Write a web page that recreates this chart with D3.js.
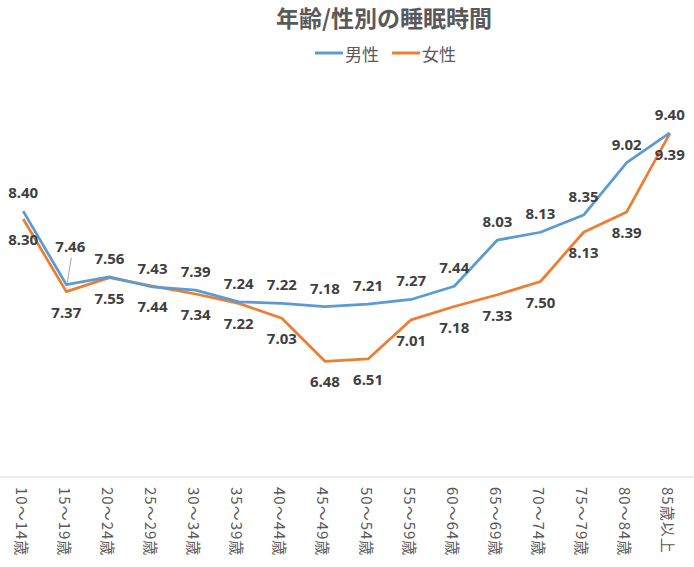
<!DOCTYPE html>
<html><head><meta charset="utf-8">
<script src="https://cdn.jsdelivr.net/npm/d3@7/dist/d3.min.js"></script>
<style>
html,body{margin:0;padding:0;background:#fff;}
svg{display:block;}
</style>
</head><body>
<svg id="c" width="694" height="567"></svg>
<script>
const categories = ["10～14歳","15～19歳","20～24歳","25～29歳","30～34歳","35～39歳","40～44歳","45～49歳","50～54歳","55～59歳","60～64歳","65～69歳","70～74歳","75～79歳","80～84歳","85歳以上"];
const male   = [8.40,7.46,7.56,7.43,7.39,7.24,7.22,7.18,7.21,7.27,7.44,8.03,8.13,8.35,9.02,9.40];
const female = [8.30,7.37,7.55,7.44,7.34,7.22,7.03,6.48,6.51,7.01,7.18,7.33,7.50,8.13,8.39,9.39];
const seriesNames = ["男性","女性"];
const colors = ["#5B9BD5","#ED7D31"];
const yDomain = [5, 10];

const svg = d3.select("#c");
const font = "'Noto Sans','Noto Sans CJK JP',sans-serif";
const cjk = "'Noto Sans CJK JP',sans-serif";

const x = d3.scalePoint().domain(categories).range([23.2, 669.8]);
const y = d3.scaleLinear().domain(yDomain).range([477, 86]);

// title
svg.append("text").attr("x", 384).attr("y", 27)
  .attr("text-anchor","middle").attr("font-family", cjk).attr("font-weight","bold")
  .attr("font-size", 23).attr("fill","#595959").text("年齢/性別の睡眠時間");

// legend
const legX = [315, 392];
seriesNames.forEach((n,i)=>{
  svg.append("line").attr("x1",legX[i]).attr("x2",legX[i]+28).attr("y1",53).attr("y2",53)
    .attr("stroke",colors[i]).attr("stroke-width",3);
  svg.append("text").attr("x",legX[i]+30).attr("y",53).attr("dominant-baseline","central")
    .attr("font-family",cjk).attr("font-size",17).attr("fill","#595959").text(n);
});

// axis
const xAxis = svg.append("g").attr("transform","translate(0,477)");
xAxis.append("line").attr("x1",0).attr("x2",694).attr("stroke","#d9d9d9").attr("stroke-width",1);
xAxis.selectAll("text.xl").data(categories).join("text").attr("class","xl")
  .attr("transform", d=>`translate(${x(d)-1},10) rotate(90)`)
  .attr("dominant-baseline","central").attr("text-anchor","start")
  .attr("font-family",cjk).attr("font-size",15).attr("letter-spacing",1).attr("fill","#595959")
  .text(d=>d);

const line = d3.line().x((d,i)=>x(categories[i])).y(d=>y(d));
[female, male].forEach((s)=>{
  const i = s===male?0:1;
  svg.append("path").datum(s).attr("d",line).attr("fill","none")
    .attr("stroke",colors[i]).attr("stroke-width",2.75).attr("stroke-linejoin","round");
});

// leader line for 15~19 male label
svg.append("line").attr("x1",x(categories[1])+5).attr("y1",y(male[1])-27)
  .attr("x2",x(categories[1])+1).attr("y2",y(male[1])-2)
  .attr("stroke","#a6a6a6").attr("stroke-width",1);

// data labels
const lab = svg.append("g").attr("font-family",font).attr("font-weight","bold")
  .attr("font-size",15).attr("fill","#404040").attr("text-anchor","middle");
male.forEach((v,i)=>{
  let dx = 0, dy = -13;
  if(i===1){dx=4; dy=-33;}
  lab.append("text").attr("x",x(categories[i])+dx).attr("y",y(v)+dy).text(v.toFixed(2));
});
female.forEach((v,i)=>{
  lab.append("text").attr("x",x(categories[i])).attr("y",y(v)+26).text(v.toFixed(2));
});
</script>
</body></html>
